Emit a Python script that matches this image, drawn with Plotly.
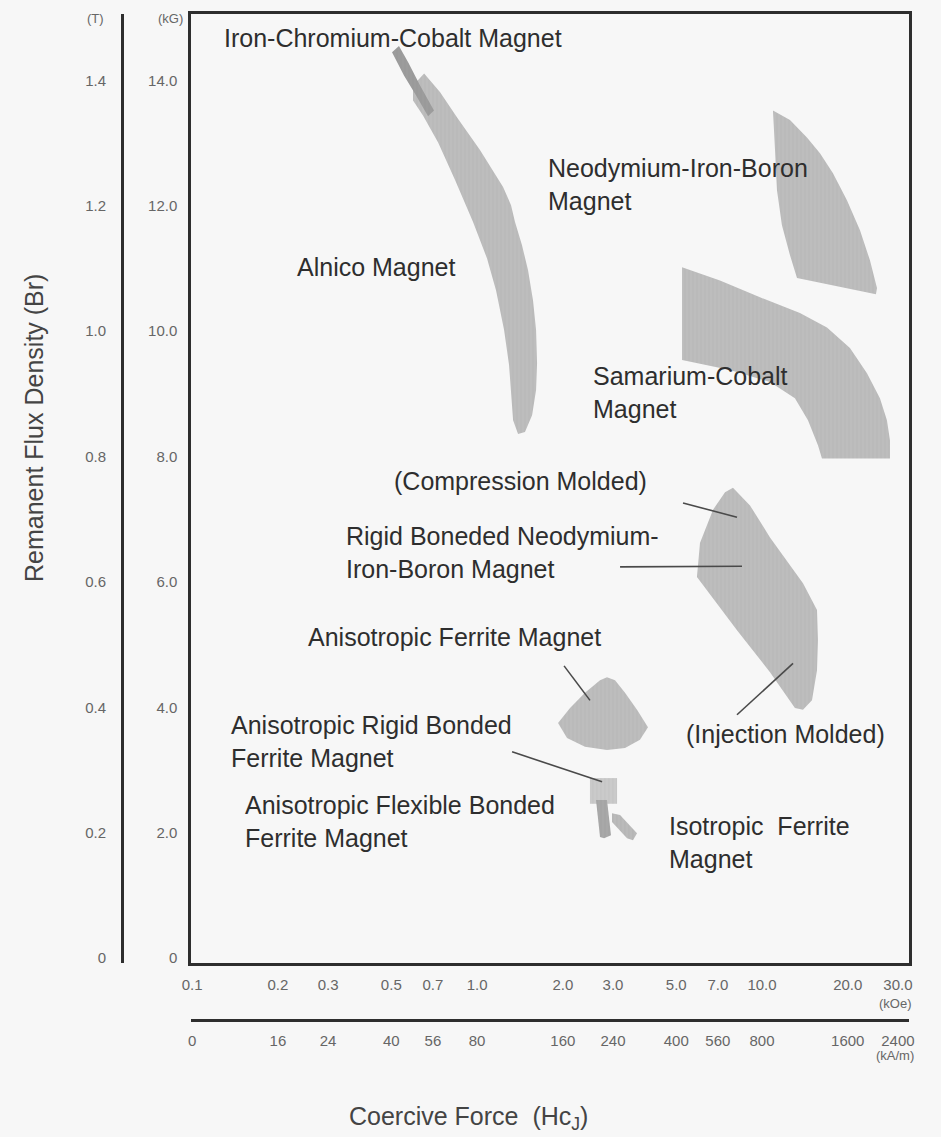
import plotly.graph_objects as go

# ---- axis scales -------------------------------------------------------
koe_ticks = [0.1, 0.2, 0.3, 0.5, 0.7, 1.0, 2.0, 3.0, 5.0, 7.0, 10.0, 20.0, 30.0]
koe_labels = ["0.1", "0.2", "0.3", "0.5", "0.7", "1.0", "2.0", "3.0", "5.0",
              "7.0", "10.0", "20.0", "30.0"]
kam_labels = ["0", "16", "24", "40", "56", "80", "160", "240", "400", "560",
              "800", "1600", "2400"]
kg_ticks = [0, 2, 4, 6, 8, 10, 12, 14]
kg_labels = ["0", "2.0", "4.0", "6.0", "8.0", "10.0", "12.0", "14.0"]
t_ticks = [0, 0.2, 0.4, 0.6, 0.8, 1.0, 1.2, 1.4]
t_labels = ["0", "0.2", "0.4", "0.6", "0.8", "1.0", "1.2", "1.4"]

# ---- magnet regions: coercive force (kOe) vs remanence (kG) -------------
alnico_hc = [0.652, 0.742, 0.851, 1.024, 1.234, 1.316, 1.359, 1.438, 1.510, 1.572,
             1.611, 1.624, 1.611, 1.560, 1.473, 1.393, 1.338, 1.316, 1.295, 1.244,
             1.166, 1.084, 0.968, 0.837, 0.730, 0.646, 0.596, 0.596]
alnico_br = [14.11, 13.81, 13.41, 12.89, 12.30, 12.01, 11.74, 11.37, 10.97, 10.49,
             10.02, 9.49, 9.06, 8.66, 8.39, 8.36, 8.58, 8.98, 9.46, 10.02,
             10.65, 11.16, 11.74, 12.41, 13.01, 13.44, 13.68, 13.92]

fecrco_hc = [0.503, 0.532, 0.573, 0.631, 0.706, 0.673, 0.611, 0.554]
fecrco_br = [14.45, 14.55, 14.29, 13.92, 13.52, 13.43, 13.76, 14.08]

ndfeb_hc = [10.93, 12.54, 14.38, 15.98, 17.75, 19.87, 22.08, 23.93, 25.33, 25.12,
            13.27, 12.54, 11.75, 11.29, 11.11]
ndfeb_br = [13.52, 13.37, 13.09, 12.84, 12.52, 12.09, 11.61, 11.13, 10.69, 10.59,
            10.85, 11.21, 11.69, 12.25, 12.89]

smco_hc = [5.241, 7.121, 9.840, 13.59, 16.91, 20.36, 23.36, 25.94, 27.45, 28.13,
           28.13, 16.24, 15.72, 14.50, 13.05, 10.67, 7.72, 5.241]
smco_br = [11.02, 10.81, 10.54, 10.29, 10.06, 9.73, 9.33, 8.93, 8.58, 8.26,
           7.97, 7.97, 8.18, 8.58, 8.93, 9.19, 9.38, 9.54]

bonded_ndfeb_hc = [7.911, 9.077, 10.67, 12.54, 13.93, 15.60, 15.72, 15.60, 14.98,
                   13.93, 13.05, 10.67, 8.171, 5.913, 6.059, 6.733, 7.417]
bonded_ndfeb_br = [7.50, 7.22, 6.71, 6.27, 5.98, 5.55, 5.07, 4.59, 4.11,
                   3.96, 3.99, 4.56, 5.23, 6.08, 6.62, 7.15, 7.43]

aniso_ferrite_hc = [1.924, 2.120, 2.392, 2.701, 2.858, 3.050, 3.306, 3.642, 3.981,
                    3.731, 3.306, 2.858, 2.392, 2.069]
aniso_ferrite_br = [3.75, 3.99, 4.23, 4.43, 4.48, 4.43, 4.23, 3.96, 3.68,
                    3.48, 3.35, 3.32, 3.37, 3.51]

rigid_ferrite_hc = [2.49, 3.10, 3.10, 2.49]
rigid_ferrite_br = [2.87, 2.87, 2.46, 2.46]

flex_ferrite_hc = [2.615, 2.858, 2.952, 2.791, 2.701]
flex_ferrite_br = [2.52, 2.52, 1.96, 1.91, 1.93]

iso_ferrite_hc = [2.976, 3.176, 3.642, 3.526, 3.360, 2.976]
iso_ferrite_br = [2.31, 2.28, 1.99, 1.88, 1.91, 2.17]

# ---- leader lines (kOe, kG) ---------------------------------------------
leader_compression = ([5.283, 8.171], [7.26, 7.03])
leader_bonded_ndfeb = ([3.176, 8.508], [6.24, 6.25])
leader_injection = ([8.171, 12.85], [3.88, 4.70])
leader_aniso_ferrite = ([2.02, 2.491], [4.66, 4.11])
leader_rigid_ferrite = ([1.327, 2.746], [3.29, 2.81])

W, H = 941, 1137
INK = "#2e2e2e"
TICK = "#666666"
BG = "#f7f7f7"
FILL = "#bdbdbd"
FILL_DARK = "#9c9c9c"


def px(x):
    return x / W


def py(y):
    return 1 - y / H


fig = go.Figure()


def region(hc, br, color, stripe):
    fig.add_trace(go.Scatter(
        x=hc + hc[:1], y=br + br[:1], mode="lines", fill="toself",
        line=dict(width=0, color=color), fillcolor=color,
        fillpattern=dict(shape="|", fgcolor=stripe, bgcolor=color,
                         size=4, solidity=0.25),
        hoverinfo="skip", showlegend=False))


region(alnico_hc, alnico_br, FILL, "#b0b0b0")
region(fecrco_hc, fecrco_br, FILL_DARK, "#939393")
region(ndfeb_hc, ndfeb_br, FILL, "#b0b0b0")
region(smco_hc, smco_br, FILL, "#b0b0b0")
region(bonded_ndfeb_hc, bonded_ndfeb_br, FILL, "#b0b0b0")
region(aniso_ferrite_hc, aniso_ferrite_br, FILL, "#b0b0b0")
region(rigid_ferrite_hc, rigid_ferrite_br, "#cacaca", "#bdbdbd")
region(flex_ferrite_hc, flex_ferrite_br, "#a8a8a8", "#9c9c9c")
region(iso_ferrite_hc, iso_ferrite_br, "#bababa", "#adadad")

for lx, ly in [leader_compression, leader_bonded_ndfeb, leader_injection,
               leader_aniso_ferrite, leader_rigid_ferrite]:
    fig.add_trace(go.Scatter(x=lx, y=ly, mode="lines",
                             line=dict(color="#4a4a4a", width=1.6),
                             hoverinfo="skip", showlegend=False))

# second (kA/m) and T scales share the main traces' extents
fig.add_trace(go.Scatter(x=[koe_ticks[0], koe_ticks[-1]], y=[None, None],
                         xaxis="x2", yaxis="y", mode="markers",
                         hoverinfo="skip", showlegend=False))
fig.add_trace(go.Scatter(x=[None, None], y=[t_ticks[0], t_ticks[-1]],
                         xaxis="x", yaxis="y2", mode="markers",
                         hoverinfo="skip", showlegend=False))

x_range = [-1.004, 1.516]
kg_range = [-0.08, 15.06]
x_dom = [191 / W, 909 / W]
y_dom = [py(963), py(14)]

fig.update_layout(
    width=W, height=H,
    margin=dict(l=0, r=0, t=0, b=0, autoexpand=False),
    paper_bgcolor=BG, plot_bgcolor=BG,
    font=dict(family="Liberation Sans, Arial, sans-serif", color=INK),
    xaxis=dict(type="log", range=x_range, domain=x_dom, anchor="y",
               automargin=False,
               tickvals=koe_ticks, ticktext=koe_labels, ticks="",
               showgrid=False, zeroline=False, showline=True, mirror=True,
               linecolor=INK, linewidth=2.5,
               tickfont=dict(size=15, color=TICK), ticklabelstandoff=6),
    xaxis2=dict(type="log", range=x_range, domain=x_dom, anchor="free",
                automargin=False,
                overlaying="x", position=py(1020), side="bottom",
                tickvals=koe_ticks, ticktext=kam_labels, ticks="",
                showgrid=False, zeroline=False, showline=True,
                linecolor=INK, linewidth=3,
                tickfont=dict(size=15, color=TICK), ticklabelstandoff=6),
    yaxis=dict(range=kg_range, domain=y_dom, anchor="x",
               automargin=False,
               tickvals=kg_ticks, ticktext=kg_labels, ticks="",
               showgrid=False, zeroline=False, showline=True, mirror=True,
               linecolor=INK, linewidth=2.5,
               tickfont=dict(size=15, color=TICK), ticklabelstandoff=8),
    yaxis2=dict(range=[v / 10 for v in kg_range], domain=y_dom,
                automargin=False,
                anchor="free", overlaying="y", position=px(122), side="left",
                tickvals=t_ticks, ticktext=t_labels, ticks="",
                showgrid=False, zeroline=False, showline=True,
                linecolor=INK, linewidth=3,
                tickfont=dict(size=15, color=TICK), ticklabelstandoff=12),
)

LABEL = dict(size=25, color=INK)
labels = [
    ("Iron-Chromium-Cobalt Magnet", 222, 38),
    ("Neodymium-Iron-Boron<br>Magnet", 546, 185),
    ("Alnico Magnet", 295, 267),
    ("Samarium-Cobalt<br>Magnet", 591, 392),
    ("(Compression Molded)", 392, 481),
    ("Rigid Boneded Neodymium-<br>Iron-Boron Magnet", 344, 552),
    ("Anisotropic Ferrite Magnet", 306, 637),
    ("(Injection Molded)", 684, 734),
    ("Anisotropic Rigid Bonded<br>Ferrite Magnet", 229, 741),
    ("Anisotropic Flexible Bonded<br>Ferrite Magnet", 243, 821),
    ("Isotropic\u00a0 Ferrite<br>Magnet", 667, 842),
]
for text, x, y in labels:
    fig.add_annotation(text=text, x=px(x), y=py(y), xref="paper", yref="paper",
                       xanchor="left", yanchor="middle", align="left",
                       showarrow=False, font=LABEL)

units = [("(T)", 95, 18), ("(kG)", 170, 18), ("(kOe)", 895, 1003),
         ("(kA/m)", 895, 1055)]
for text, x, y in units:
    fig.add_annotation(text=text, x=px(x), y=py(y), xref="paper", yref="paper",
                       xanchor="center", yanchor="middle", showarrow=False,
                       font=dict(size=13, color=TICK))

fig.add_annotation(text="Remanent Flux Density (Br)", x=px(34), y=py(428),
                   xref="paper", yref="paper", textangle=-90, showarrow=False,
                   xanchor="center", yanchor="middle",
                   font=dict(size=25, color="#444444"))
fig.add_annotation(text="Coercive Force\u00a0 (Hc<sub>J</sub>)", x=px(468),
                   y=py(1118), xref="paper", yref="paper", showarrow=False,
                   xanchor="center", yanchor="middle",
                   font=dict(size=25, color="#444444"))

fig.write_html("out.html")
